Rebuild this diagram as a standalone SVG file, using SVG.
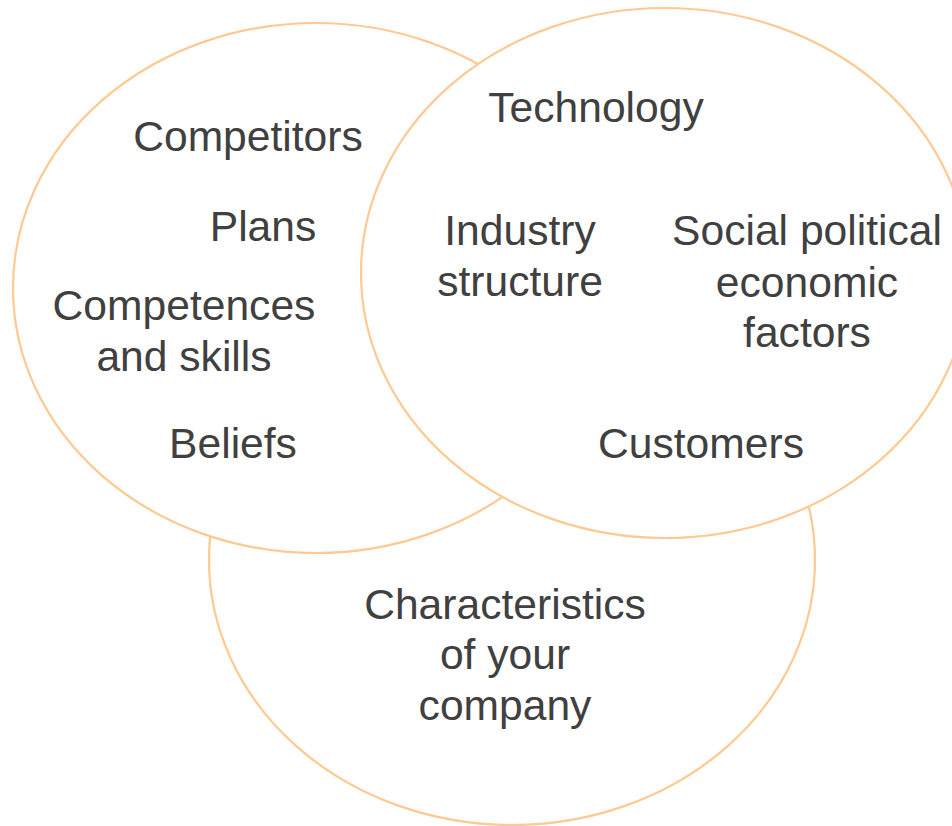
<svg xmlns="http://www.w3.org/2000/svg" width="952" height="826" viewBox="0 0 952 826">
  <style>
    .ring { fill: #ffffff; stroke: #ffc993; stroke-width: 2.2; }
    .label { font-family: "Liberation Sans", Arial, sans-serif; font-size: 42.6px; fill: #404040; text-anchor: middle; }
  </style>
  <rect x="0" y="0" width="952" height="826" fill="#ffffff"/>

  <!-- bottom set sits behind the two upper sets -->
  <g id="company">
    <ellipse class="ring" cx="512" cy="560" rx="303" ry="265"/>
  </g>
  <g id="competitors-set">
    <ellipse class="ring" cx="316" cy="288" rx="303" ry="265"/>
  </g>
  <g id="environment-set">
    <ellipse class="ring" cx="665" cy="273" rx="304" ry="265"/>
  </g>

  <g id="labels">
    <text class="label" x="248" y="151">Competitors</text>
    <text class="label" x="263" y="241">Plans</text>
    <text class="label" x="184" y="320">Competences</text>
    <text class="label" x="184" y="371">and skills</text>
    <text class="label" x="233" y="458">Beliefs</text>

    <text class="label" x="596" y="122">Technology</text>
    <text class="label" x="520" y="245">Industry</text>
    <text class="label" x="520" y="296">structure</text>
    <text class="label" x="807" y="245">Social political</text>
    <text class="label" x="807" y="297">economic</text>
    <text class="label" x="807" y="347">factors</text>
    <text class="label" x="701" y="458">Customers</text>

    <text class="label" x="505" y="619">Characteristics</text>
    <text class="label" x="505" y="669">of your</text>
    <text class="label" x="505" y="720">company</text>
  </g>
</svg>
